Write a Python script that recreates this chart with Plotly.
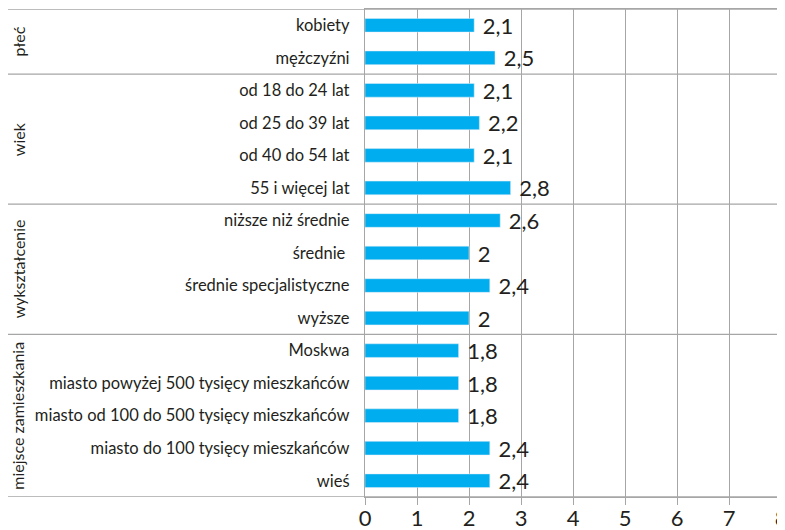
import plotly.graph_objects as go

groups = ["płeć", "wiek", "wykształcenie", "miejsce zamieszkania"]
group_sizes = [2, 4, 4, 5]
categories = [
    "kobiety", "mężczyźni",
    "od 18 do 24 lat", "od 25 do 39 lat", "od 40 do 54 lat", "55 i więcej lat",
    "niższe niż średnie", "średnie ", "średnie specjalistyczne", "wyższe",
    "Moskwa", "miasto powyżej 500 tysięcy mieszkańców",
    "miasto od 100 do 500 tysięcy mieszkańców",
    "miasto do 100 tysięcy mieszkańców", "wieś",
]
values = [2.1, 2.5, 2.1, 2.2, 2.1, 2.8, 2.6, 2.0, 2.4, 2.0, 1.8, 1.8, 1.8, 2.4, 2.4]
x_ticks = [0, 1, 2, 3, 4, 5, 6, 7, 8]

labels = ["\u00a0" + f"{v:g}".replace(".", ",") for v in values]
font = "Lato, 'Open Sans', sans-serif"
grid = "#a6a6a6"

fig = go.Figure(go.Bar(
    x=values, y=categories, orientation="h",
    marker_color="#00aeef", width=0.42,
    text=labels, textposition="outside", cliponaxis=False,
    constraintext="none",
    textfont=dict(size=22, color="#231f20", family=font),
))

# group separators and group labels
shapes = []
annotations = []
start = 0
for name, n in zip(groups, group_sizes):
    shapes.append(dict(type="line", xref="paper", yref="y",
                       x0=-0.86, x1=1, y0=start - 0.5, y1=start - 0.5,
                       line=dict(color=grid, width=1.3)))
    annotations.append(dict(text=name, xref="paper", yref="y",
                            x=-0.834, y=start + (n - 1) / 2, showarrow=False,
                            textangle=-90, xanchor="center", yanchor="middle",
                            font=dict(size=16, color="#231f20", family=font)))
    start += n
shapes.append(dict(type="line", xref="paper", yref="y",
                   x0=-0.86, x1=1, y0=start - 0.5, y1=start - 0.5,
                   line=dict(color=grid, width=1.3)))

# page body adds 8px offset, so the figure is 8px smaller
fig.update_layout(
    width=777, height=522,
    margin=dict(l=357, r=4, t=1, b=33),
    plot_bgcolor="white", paper_bgcolor="white",
    showlegend=False,
    shapes=shapes, annotations=annotations,
    font=dict(family=font, color="#231f20"),
)
fig.update_xaxes(
    range=[0, 8], tickvals=x_ticks, showgrid=True, gridcolor=grid, gridwidth=1.3,
    zeroline=False, ticks="outside", ticklen=7, tickcolor=grid,
    tickfont=dict(size=22, color="#231f20"), showline=True, linecolor=grid,
    mirror=True, linewidth=1.3, automargin=False,
    ticklabelstandoff=-6, ticklabeloverflow="allow",
)
fig.update_yaxes(
    range=[14.5, -0.5], autorange=False, showgrid=False,
    showline=True, linecolor=grid, linewidth=1.3,
    ticks="", ticklabelstandoff=11, automargin=False,
    tickfont=dict(size=16.5, color="#231f20"),
)

fig.write_html("out.html")
